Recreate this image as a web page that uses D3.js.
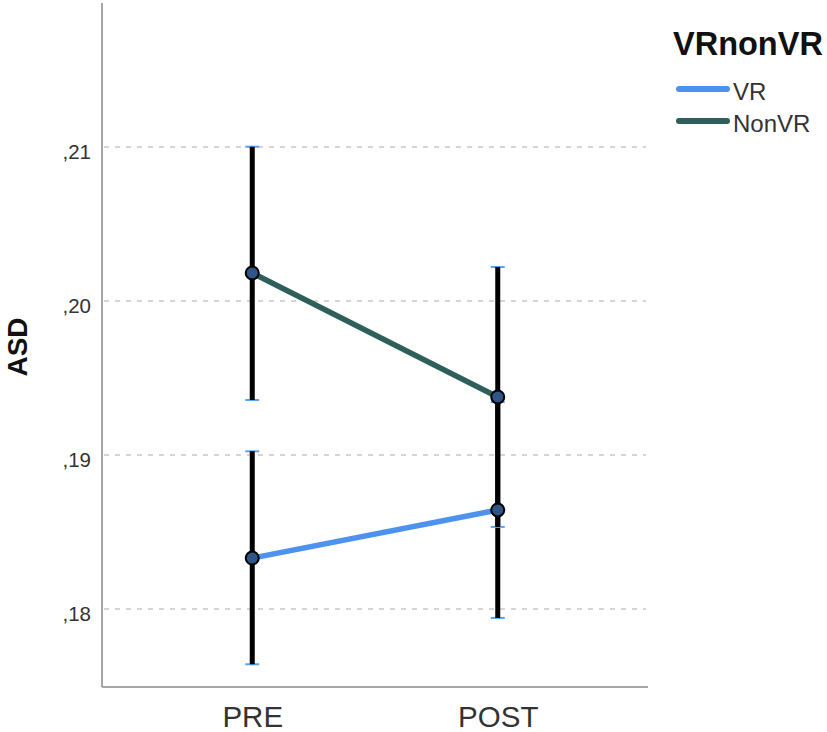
<!DOCTYPE html>
<html><head><meta charset="utf-8">
<script src="https://cdn.jsdelivr.net/npm/d3@7"></script>
<style>body{margin:0;background:#fff}svg{display:block}text{font-family:"Liberation Sans",Arial,sans-serif}</style>
</head><body><svg id="c" width="827" height="732"></svg>
<script>
const categories = ["PRE","POST"];
const seriesNames = ["VR","NonVR"];
const vrMeans = [0.18331, 0.18643];
const vrLower = [0.17641, 0.17942];
const vrUpper = [0.19024, 0.19344];
const nonvrMeans = [0.20182, 0.19377];
const nonvrLower = [0.19357, 0.18533];
const nonvrUpper = [0.21002, 0.20221];
const yTicks = [0.18, 0.19, 0.20, 0.21];
const yTickLabels = [",18", ",19", ",20", ",21"];
const colors = {VR:"#4d92ee", NonVR:"#2e5f5a"};

const svg = d3.select("#c");
const y = d3.scaleLinear().domain([0.18, 0.21]).range([609, 147]);
const x = d3.scalePoint().domain(categories).range([102, 648]).padding(0.612);

// gridlines
svg.append("g").selectAll("line").data(yTicks).join("line")
  .attr("x1",104).attr("x2",646).attr("y1",d=>y(d)).attr("y2",d=>y(d))
  .attr("stroke","#c8c8c8").attr("stroke-width",1.5).attr("stroke-dasharray","5,6");

// y axis
const yAxis = d3.axisLeft(y).tickValues(yTicks).tickSize(0).tickFormat((d,i)=>yTickLabels[i]);
const gy = svg.append("g").attr("transform","translate(102,0)").call(yAxis);
gy.select(".domain").remove();
gy.selectAll("text").attr("font-size",20.5).attr("fill","#333").attr("x",-11).attr("dy","0.55em");
svg.append("line").attr("x1",102).attr("x2",102).attr("y1",3).attr("y2",687).attr("stroke","#888").attr("stroke-width",1.5);

// x axis
const xAxis = d3.axisBottom(x).tickSize(0);
const gx = svg.append("g").attr("transform","translate(0,687)").call(xAxis);
gx.select(".domain").remove();
gx.selectAll("text").attr("font-size",29.5).attr("fill","#333").attr("y",0).attr("dy","40px");
svg.append("line").attr("x1",102).attr("x2",648).attr("y1",687).attr("y2",687).attr("stroke","#888").attr("stroke-width",1.5);

// axis title
svg.append("text").attr("transform","translate(27,347) rotate(-90)").attr("text-anchor","middle")
  .attr("font-size",28).attr("font-weight","bold").attr("fill","#111").text("ASD");

const series = [
  {name:"VR", means:vrMeans, lo:vrLower, hi:vrUpper},
  {name:"NonVR", means:nonvrMeans, lo:nonvrLower, hi:nonvrUpper}
];
const line = d3.line().x((d,i)=>x(categories[i])).y(d=>y(d));

series.forEach(s=>{
  svg.append("path").datum(s.means).attr("d",line).attr("fill","none")
    .attr("stroke",colors[s.name]).attr("stroke-width",5.5);
});
series.forEach(s=>{
  const g = svg.append("g");
  categories.forEach((c,i)=>{
    [s.lo[i], s.hi[i]].forEach(v=>{
      g.append("line").attr("x1",x(c)-7).attr("x2",x(c)+7).attr("y1",y(v)).attr("y2",y(v))
        .attr("stroke","#5ba3f5").attr("stroke-width",2);
    });
    g.append("line").attr("x1",x(c)).attr("x2",x(c)).attr("y1",y(s.lo[i])).attr("y2",y(s.hi[i]))
      .attr("stroke","#000").attr("stroke-width",5);
  });
});
series.forEach(s=>{
  svg.append("g").selectAll("circle").data(s.means).join("circle")
    .attr("cx",(d,i)=>x(categories[i])).attr("cy",d=>y(d)).attr("r",6.5)
    .attr("fill","#2f5687").attr("stroke","#000").attr("stroke-width",2);
});

// legend
svg.append("text").attr("x",673).attr("y",55).attr("font-size",32.5).attr("font-weight","bold").attr("fill","#111").text("VRnonVR");
const leg = svg.append("g").selectAll("g").data(seriesNames).join("g")
  .attr("transform",(d,i)=>`translate(0,${89+i*32})`);
leg.append("line").attr("x1",679).attr("x2",727).attr("y1",0).attr("y2",0)
  .attr("stroke",d=>colors[d]).attr("stroke-width",6).attr("stroke-linecap","round");
leg.append("text").attr("x",733).attr("y",11).attr("font-size",24).attr("fill","#333").text(d=>d);
</script></body></html>
